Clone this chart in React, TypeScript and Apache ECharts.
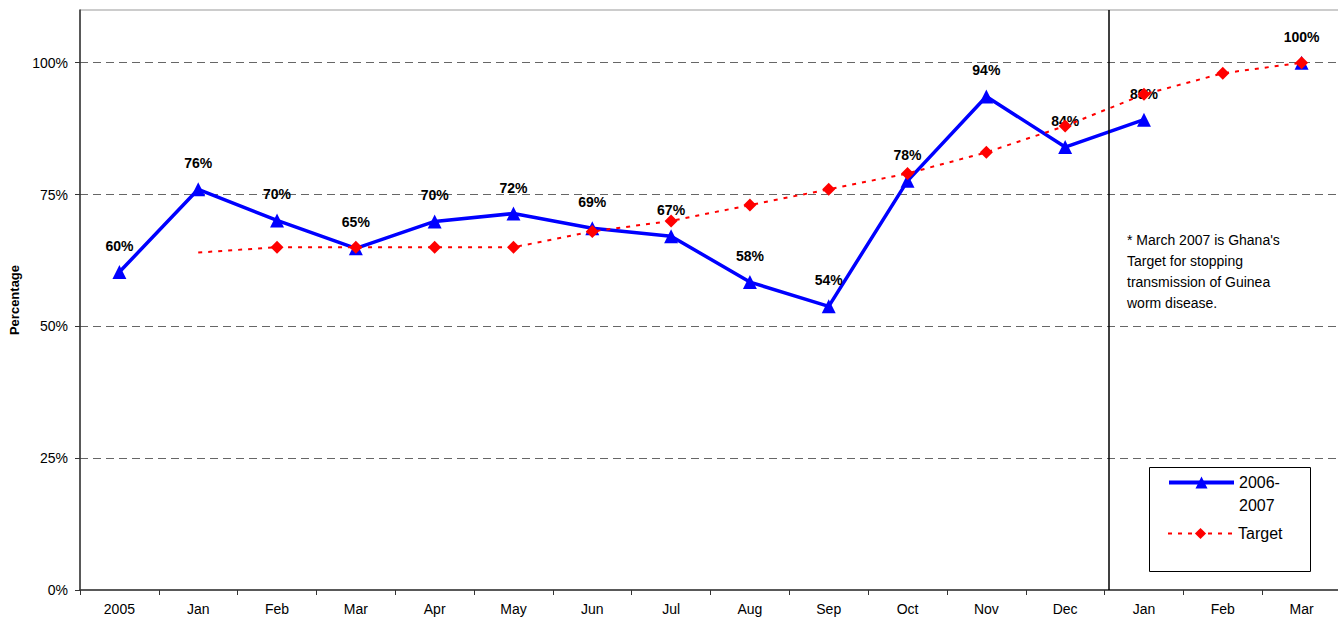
import React, { useEffect, useRef } from "react";
import * as echarts from "echarts";

const categories = ["2005", "Jan", "Feb", "Mar", "Apr", "May", "Jun", "Jul", "Aug", "Sep", "Oct", "Nov", "Dec", "Jan", "Feb", "Mar"];
const actual: (number | null)[] = [60.3, 76, 70.1, 64.8, 69.9, 71.4, 68.6, 67.1, 58.4, 53.8, 77.6, 93.6, 84, 89.2, null, 100];
const actualLabels = ["60%", "76%", "70%", "65%", "70%", "72%", "69%", "67%", "58%", "54%", "78%", "94%", "84%", "89%", "", "100%"];
const target: (number | null)[] = [null, 64, 65, 65, 65, 65, 68, 70, 73, 76, 79, 83, 88, 94, 98, 100];
const yTicks = [0, 25, 50, 75, 100];
const note = "* March 2007 is Ghana's\nTarget for stopping\ntransmission of Guinea\nworm disease.";
const actualName = "2006-\n2007";

const FONT = "Arial, 'Liberation Sans', sans-serif";

export default function App() {
  const ref = useRef<HTMLDivElement>(null);
  useEffect(() => {
    if (!ref.current) return;
    const chart = echarts.init(ref.current, null, { renderer: "svg" });
    chart.setOption({
      animation: false,
      backgroundColor: "#ffffff",
      textStyle: { fontFamily: FONT },
      grid: {
        left: 80,
        top: 10,
        bottom: 32,
        right: -3,
        outerBoundsMode: "none",
        containLabel: false,
        show: true,
        borderColor: "#999",
        borderWidth: 1,
      },
      legend: [
        {
          left: 1167,
          top: 448,
          padding: 0,
          itemWidth: 65,
          itemHeight: 15,
          selectedMode: false,
          lineStyle: { width: 4 },
          formatter: () => " \n2006-\n2007",
          data: [{ name: actualName, textStyle: { fontSize: 16, lineHeight: 23, color: "#000", fontFamily: FONT } }],
        },
        {
          left: 1167,
          top: 522,
          padding: 0,
          itemWidth: 65,
          itemHeight: 14,
          selectedMode: false,
          data: [{ name: "Target", textStyle: { fontSize: 16, lineHeight: 23, color: "#000", fontFamily: FONT } }],
        },
      ],
      xAxis: {
        type: "category",
        data: categories,
        boundaryGap: true,
        axisLine: { lineStyle: { color: "#333", width: 1.5 } },
        axisTick: { show: true, length: 5, lineStyle: { color: "#333" } },
        axisLabel: { color: "#000", fontSize: 14, fontFamily: FONT, margin: 12, interval: 0 },
      },
      yAxis: {
        type: "value",
        min: 0,
        max: 110,
        interval: 25,
        name: "Percentage",
        nameLocation: "middle",
        nameGap: 59,
        nameTextStyle: { color: "#000", fontSize: 13, fontWeight: "bold", fontFamily: FONT },
        axisLine: { show: true, lineStyle: { color: "#333", width: 1.5 } },
        axisTick: { show: true, length: 5, lineStyle: { color: "#333" } },
        axisLabel: {
          color: "#000",
          fontSize: 14,
          fontFamily: FONT,
          margin: 12,
          showMaxLabel: false,
          formatter: (v: number) => (yTicks.includes(v) ? v + "%" : ""),
        },
        splitLine: { show: true, showMinLine: false, showMaxLine: false, lineStyle: { color: "#666", type: [8, 5], width: 1 } },
      },
      series: [
        {
          name: actualName,
          type: "line",
          data: actual,
          connectNulls: false,
          symbol: "triangle",
          symbolSize: 14,
          lineStyle: { color: "#0000ff", width: 3.5 },
          itemStyle: { color: "#0000ff" },
          z: 3,
          label: {
            show: true,
            position: "top",
            distance: 12,
            color: "#000",
            fontSize: 14,
            fontWeight: "bold",
            fontFamily: FONT,
            formatter: (p: any) => actualLabels[p.dataIndex],
          },
        },
        {
          name: "Target",
          type: "line",
          data: target.map((v, i) => (i === 1 ? { value: v, symbol: "none" } : v)),
          symbol: "diamond",
          symbolSize: 13,
          lineStyle: { color: "#ff0000", width: 2, type: [4, 6] },
          itemStyle: { color: "#ff0000" },
          z: 4,
        },
      ],
      graphic: [
        { type: "line", z: 10, shape: { x1: 1109, y1: 10, x2: 1109, y2: 590 }, style: { stroke: "#000", lineWidth: 1.5 } },
        { type: "text", z: 10, left: 1127, top: 229, style: { text: note, fill: "#000", fontSize: 14, lineHeight: 21, fontFamily: FONT } },
        { type: "rect", z: 0, shape: { x: 1149.5, y: 467.5, width: 161, height: 104 }, style: { stroke: "#000", lineWidth: 1, fill: "#fff" } },
      ],
    });
    return () => chart.dispose();
  }, []);
  return <div ref={ref} style={{ position: "absolute", left: 0, top: 0, width: 1338, height: 622 }} />;
}
